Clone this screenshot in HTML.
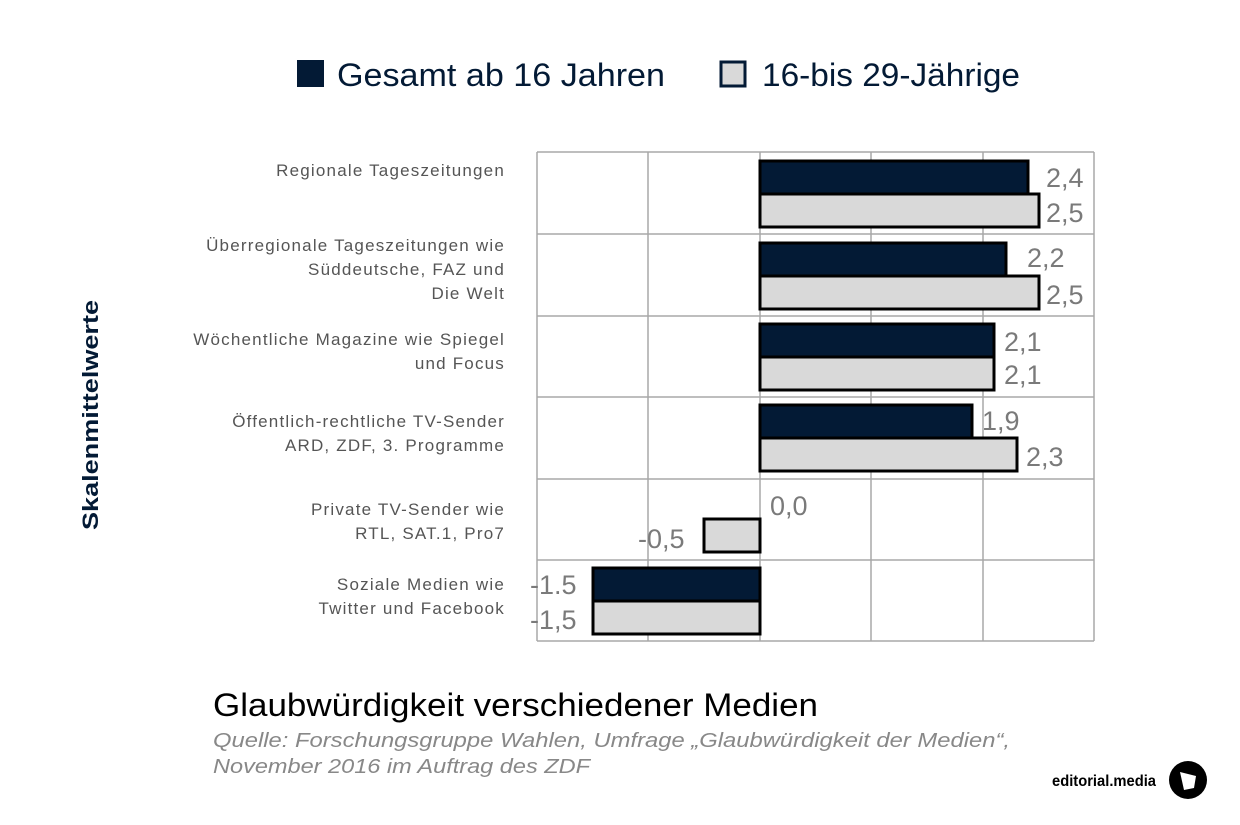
<!DOCTYPE html>
<html><head><meta charset="utf-8"><style>
html,body{margin:0;padding:0;background:#fff;}
svg{display:block;font-family:"Liberation Sans",sans-serif;}
</style></head><body>
<svg width="1240" height="825" viewBox="0 0 1240 825" xmlns="http://www.w3.org/2000/svg">
<!-- legend -->
<rect x="297" y="60" width="27" height="27" fill="#031a35"/>
<text x="337" y="86" font-size="32" fill="#031a35" textLength="328" lengthAdjust="spacingAndGlyphs">Gesamt ab 16 Jahren</text>
<rect x="721" y="62" width="24" height="24" fill="#d9d9d9" stroke="#031a35" stroke-width="3"/>
<text x="762" y="86" font-size="32" fill="#031a35" textLength="258" lengthAdjust="spacingAndGlyphs">16-bis 29-Jährige</text>
<!-- grid -->
<g stroke="#a8a8a8" stroke-width="1.5" fill="none">
<line x1="537" y1="152" x2="537" y2="641"/>
<line x1="648" y1="152" x2="648" y2="641"/>
<line x1="760" y1="152" x2="760" y2="641"/>
<line x1="871" y1="152" x2="871" y2="641"/>
<line x1="983" y1="152" x2="983" y2="641"/>
<line x1="1094" y1="152" x2="1094" y2="641"/>
<line x1="537" y1="152" x2="1094" y2="152"/>
<line x1="537" y1="234" x2="1094" y2="234"/>
<line x1="537" y1="316" x2="1094" y2="316"/>
<line x1="537" y1="397" x2="1094" y2="397"/>
<line x1="537" y1="479" x2="1094" y2="479"/>
<line x1="537" y1="560" x2="1094" y2="560"/>
<line x1="537" y1="641" x2="1094" y2="641"/>
</g>
<!-- bars -->
<g stroke="#000" stroke-width="3">
<rect x="760" y="161" width="268" height="33" fill="#031a35"/>
<rect x="760" y="194" width="279" height="33" fill="#d9d9d9"/>
<rect x="760" y="243" width="246" height="33" fill="#031a35"/>
<rect x="760" y="276" width="279" height="33" fill="#d9d9d9"/>
<rect x="760" y="324" width="234" height="33" fill="#031a35"/>
<rect x="760" y="357" width="234" height="33" fill="#d9d9d9"/>
<rect x="760" y="405" width="212" height="33" fill="#031a35"/>
<rect x="760" y="438" width="257" height="33" fill="#d9d9d9"/>
<rect x="704" y="519" width="56" height="33" fill="#d9d9d9"/>
<rect x="593" y="568" width="167" height="33" fill="#031a35"/>
<rect x="593" y="601" width="167" height="33" fill="#d9d9d9"/>
</g>
<!-- values -->
<g font-size="27" fill="#7a7a7a">
<text x="1046" y="187">2,4</text>
<text x="1046" y="222">2,5</text>
<text x="1027" y="267">2,2</text>
<text x="1046" y="304">2,5</text>
<text x="1004" y="351">2,1</text>
<text x="1004" y="384">2,1</text>
<text x="982" y="430">1,9</text>
<text x="1026" y="466">2,3</text>
<text x="770" y="515">0,0</text>
<text x="638" y="548">-0,5</text>
<text x="530" y="594">-1.5</text>
<text x="530" y="629">-1,5</text>
</g>
<!-- categories -->
<g font-size="17" fill="#555" text-anchor="end" letter-spacing="1.2">
<text x="505" y="176">Regionale Tageszeitungen</text>
<text x="505" y="251">Überregionale Tageszeitungen wie</text>
<text x="505" y="275">Süddeutsche, FAZ und</text>
<text x="505" y="299">Die Welt</text>
<text x="505" y="345">Wöchentliche Magazine wie Spiegel</text>
<text x="505" y="369">und Focus</text>
<text x="505" y="427">Öffentlich-rechtliche TV-Sender</text>
<text x="505" y="451">ARD, ZDF, 3. Programme</text>
<text x="505" y="515">Private TV-Sender wie</text>
<text x="505" y="539">RTL, SAT.1, Pro7</text>
<text x="505" y="590">Soziale Medien wie</text>
<text x="505" y="614">Twitter und Facebook</text>
</g>
<text transform="translate(98,415) rotate(-90)" text-anchor="middle" font-size="22" font-weight="bold" fill="#031a35" textLength="230" lengthAdjust="spacingAndGlyphs">Skalenmittelwerte</text>
<!-- title -->
<text x="213" y="716" font-size="32" fill="#000" textLength="605" lengthAdjust="spacingAndGlyphs">Glaubwürdigkeit verschiedener Medien</text>
<text x="213" y="747" font-size="20" font-style="italic" fill="#888" textLength="797" lengthAdjust="spacingAndGlyphs">Quelle: Forschungsgruppe Wahlen, Umfrage „Glaubwürdigkeit der Medien“,</text>
<text x="213" y="773" font-size="20" font-style="italic" fill="#888" textLength="377" lengthAdjust="spacingAndGlyphs">November 2016 im Auftrag des ZDF</text>
<text x="1052" y="786" font-size="16" font-weight="bold" fill="#000" textLength="104" lengthAdjust="spacingAndGlyphs">editorial.media</text>
<circle cx="1188" cy="780" r="19" fill="#000"/>
<path d="M1180 772 L1196 776 L1194 788 L1184 790 Z" fill="#fff"/>
</svg>
</body></html>
